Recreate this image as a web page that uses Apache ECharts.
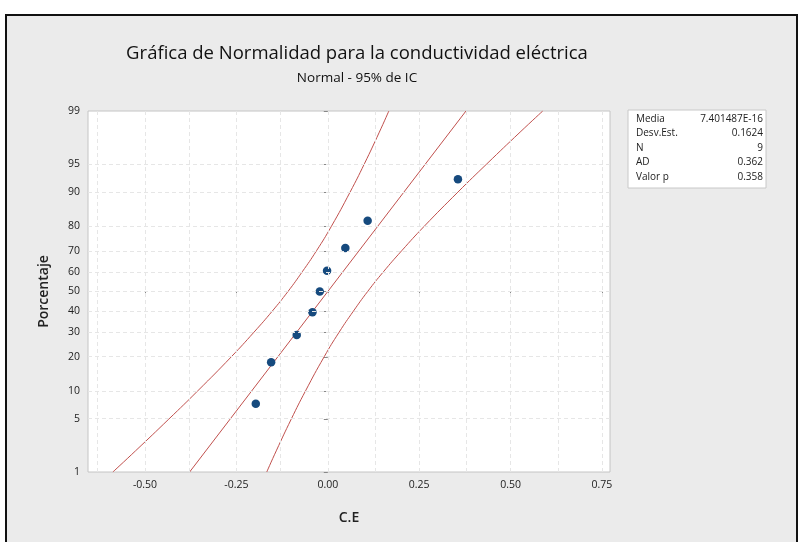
<!DOCTYPE html>
<html><head><meta charset="utf-8">
<script src="https://cdn.jsdelivr.net/npm/echarts@6/dist/echarts.min.js"></script>
<style>html,body{margin:0;padding:0;background:#fff}#c{width:800px;height:542px}</style>
</head><body><div id="c"></div>
<script>
// ---- data ----
const pointX   = [-0.197, -0.155, -0.085, -0.042, -0.022, -0.002, 0.048, 0.109, 0.356];
const pointPct = [7.4, 18.1, 28.7, 39.4, 50, 60.6, 71.3, 81.9, 92.6];
const fitPct = [1, 99];
const fitX   = [-0.378, 0.378];
const ciPct    = [1, 2, 5, 10, 20, 30, 40, 50, 60, 70, 80, 90, 95, 98, 99];
const ciLowerX = [-0.588, -0.526, -0.435, -0.356, -0.264, -0.202, -0.152, -0.109, -0.070, -0.031, 0.010, 0.061, 0.100, 0.141, 0.167];
const ciUpperX = [-0.167, -0.141, -0.100, -0.061, -0.010, 0.031, 0.070, 0.109, 0.152, 0.202, 0.264, 0.356, 0.435, 0.526, 0.588];
const yTickPct = [1, 5, 10, 20, 30, 40, 50, 60, 70, 80, 90, 95, 99];
const xTickValues = [-0.5, -0.25, 0, 0.25, 0.5, 0.75];
const xGridValues = [-0.625, -0.5, -0.375, -0.25, -0.125, 0, 0.125, 0.25, 0.375, 0.5, 0.625, 0.75];
const statLabels = ['Media', 'Desv.Est.', 'N', 'AD', 'Valor p'];
const statValues = ['7.401487E-16', '0.1624', '9', '0.362', '0.358'];
const titleText = 'Gráfica de Normalidad para la conductividad eléctrica';
const subtitleText = 'Normal - 95% de IC';

// normal probability scale (inverse standard normal CDF, Acklam)
function probit(p) {
  const a = [-3.969683028665376e+01, 2.209460984245205e+02, -2.759285104469687e+02, 1.383577518672690e+02, -3.066479806614716e+01, 2.506628277459239e+00];
  const b = [-5.447609879822406e+01, 1.615858368580409e+02, -1.556989798598866e+02, 6.680131188771972e+01, -1.328068155288572e+01];
  const c = [-7.784894002430293e-03, -3.223964580411365e-01, -2.400758277161838e+00, -2.549671348416502e+00, 4.374664141464968e+00, 2.938163982698783e+00];
  const d = [7.784695709041462e-03, 3.224671290700398e-01, 2.445134137142996e+00, 3.754408661907416e+00];
  const pl = 0.02425;
  let q, r;
  if (p < pl) {
    q = Math.sqrt(-2 * Math.log(p));
    return (((((c[0]*q+c[1])*q+c[2])*q+c[3])*q+c[4])*q+c[5]) / ((((d[0]*q+d[1])*q+d[2])*q+d[3])*q+1);
  } else if (p <= 1 - pl) {
    q = p - 0.5; r = q * q;
    return (((((a[0]*r+a[1])*r+a[2])*r+a[3])*r+a[4])*r+a[5])*q / (((((b[0]*r+b[1])*r+b[2])*r+b[3])*r+b[4])*r+1);
  } else {
    q = Math.sqrt(-2 * Math.log(1 - p));
    return -(((((c[0]*q+c[1])*q+c[2])*q+c[3])*q+c[4])*q+c[5]) / ((((d[0]*q+d[1])*q+d[2])*q+d[3])*q+1);
  }
}
const z = pct => probit(pct / 100);
const yTickZ = yTickPct.map(z);
const FONT = 'Open Sans';
const LINE = '#c0504d';

const chart = echarts.init(document.getElementById('c'), null, {renderer: 'canvas'});

const statGraphics = [];
statLabels.forEach((s, i) => {
  statGraphics.push({type: 'text', left: 636, top: 114 + i * 14.5,
    style: {text: s, font: '10px "' + FONT + '"', fill: '#222'}});
  statGraphics.push({type: 'text', right: 800 - 763, top: 114 + i * 14.5,
    style: {text: statValues[i], font: '10px "' + FONT + '"', fill: '#222', textAlign: 'right'}});
});

chart.setOption({
  animation: false,
  backgroundColor: '#ffffff',
  textStyle: {fontFamily: FONT},
  graphic: [
    {type: 'rect', z: -10, shape: {x: 6, y: 15, width: 791, height: 540},
     style: {fill: '#ebebeb', stroke: '#111', lineWidth: 2}},
    {type: 'rect', z: 5, shape: {x: 628, y: 110, width: 138, height: 78},
     style: {fill: '#fff', stroke: '#c8c8c8', lineWidth: 1}},
    ...statGraphics.map(g => Object.assign(g, {z: 6}))
  ],
  title: [
    {text: titleText, left: 352, top: 39, textAlign: 'center',
     textStyle: {fontFamily: FONT, fontSize: 18.5, fontWeight: 'normal', color: '#111'}},
    {text: subtitleText, left: 352, top: 66, textAlign: 'center',
     textStyle: {fontFamily: FONT, fontSize: 13.5, fontWeight: 'normal', color: '#111'}}
  ],
  grid: {left: 88, right: 190, top: 111, bottom: 70, show: true,
         backgroundColor: '#fff', borderColor: '#c4c4c4', borderWidth: 1},
  xAxis: {
    type: 'value', min: -0.656, max: 0.772,
    name: 'C.E', nameLocation: 'middle', nameGap: 39,
    nameTextStyle: {fontFamily: FONT, fontSize: 14, color: '#222', fontWeight: 600},
    axisLine: {show: false},
    axisTick: {show: true, customValues: xTickValues, length: 4, lineStyle: {color: '#888'}},
    axisLabel: {customValues: xTickValues, formatter: v => v.toFixed(2),
                fontFamily: FONT, fontSize: 10.5, color: '#222', margin: 8},
    splitLine: {show: false}
  },
  yAxis: {
    type: 'value', min: z(1), max: z(99),
    name: 'Porcentaje', nameLocation: 'middle', nameGap: 37, nameRotate: 90,
    nameTextStyle: {fontFamily: FONT, fontSize: 14, color: '#222', fontWeight: 600},
    axisLine: {show: false},
    axisTick: {show: true, customValues: yTickZ, length: 4, lineStyle: {color: '#888'}},
    axisLabel: {customValues: yTickZ, fontFamily: FONT, fontSize: 10.5, color: '#222', margin: 8,
      formatter: v => {
        let best = 0;
        yTickZ.forEach((t, i) => { if (Math.abs(t - v) < Math.abs(yTickZ[best] - v)) best = i; });
        return String(yTickPct[best]);
      }},
    splitLine: {show: false}
  },
  series: [
    {type: 'line', data: [], silent: true, z: 1,
     markLine: {silent: true, symbol: 'none', label: {show: false}, animation: false,
       lineStyle: {color: '#e6e6e6', width: 1, type: [4, 3]},
       data: yTickZ.slice(1, -1).map(v => ({yAxis: v}))
             .concat(xGridValues.map(v => ({xAxis: v})))}},
    {type: 'line', name: 'lower', data: ciPct.map((p, i) => [ciLowerX[i], z(p)]),
     symbol: 'none', smooth: true, lineStyle: {color: LINE, width: 1}, z: 3},
    {type: 'line', name: 'upper', data: ciPct.map((p, i) => [ciUpperX[i], z(p)]),
     symbol: 'none', smooth: true, lineStyle: {color: LINE, width: 1}, z: 3},
    {type: 'line', name: 'fit', data: fitPct.map((p, i) => [fitX[i], z(p)]),
     symbol: 'none', lineStyle: {color: LINE, width: 1}, z: 3},
    {type: 'scatter', name: 'data', data: pointX.map((x, i) => [x, z(pointPct[i])]),
     symbolSize: 8.5, itemStyle: {color: '#164a7e', opacity: 1}, z: 4}
  ]
});
</script>
</body></html>
